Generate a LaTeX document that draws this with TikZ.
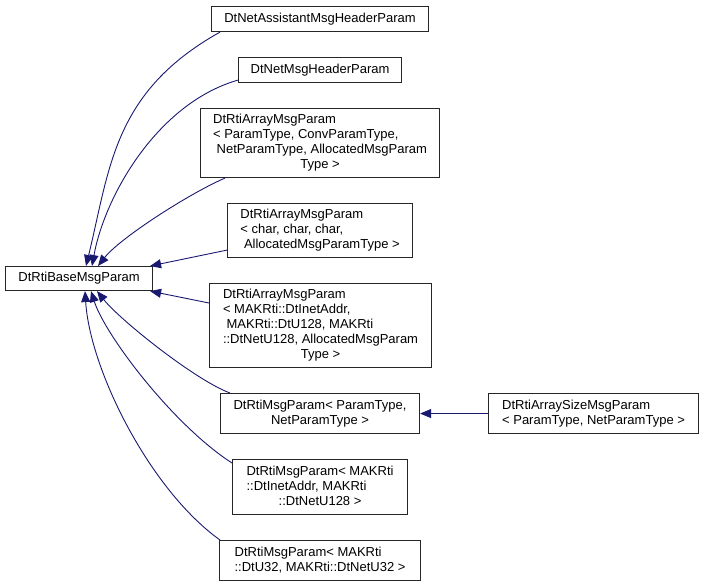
\documentclass[tikz,border=0pt]{standalone}
\usepackage{fontspec}
\setmainfont{Liberation Sans}
\usetikzlibrary{arrows.meta}
\definecolor{edgeblue}{RGB}{25,25,112}
\newcommand{\mylines}[1]{\begin{tabular}{@{}l@{}}#1\end{tabular}}
\newcommand{\mymid}[1]{\multicolumn{1}{@{}c@{}}{#1}}
\begin{document}
\begin{tikzpicture}[x=1pt,y=-1pt,
  box/.style={draw=black!85, line width=1.1pt, inner sep=0pt, anchor=north west,
    font=\fontsize{13}{15}\selectfont, align=center},
  edge/.style={draw=edgeblue, line width=0.9pt,
    -{Triangle[length=11pt,width=9pt]}}]
\useasboundingbox (0,0) rectangle (704,585);
\node[box, minimum width=217, minimum height=25] (n1) at (211,6) {DtNetAssistantMsgHeaderParam};
\node[box, minimum width=163, minimum height=25] (n2) at (238,57) {DtNetMsgHeaderParam};
\node[box, minimum width=239, minimum height=69] (n3) at (200,108)
  {\mylines{DtRtiArrayMsgParam\\ < ParamType, ConvParamType,\\ \ NetParamType, AllocatedMsgParam\\ \mymid{Type >}}};
\node[box, minimum width=185, minimum height=54] (n4) at (227,203)
  {\mylines{DtRtiArrayMsgParam\\ < char, char, char,\\ \ AllocatedMsgParamType >}};
\node[box, minimum width=147, minimum height=24] (b) at (5,266) {DtRtiBaseMsgParam};
\node[box, minimum width=222, minimum height=84] (n6) at (209,283)
  {\mylines{DtRtiArrayMsgParam\\ < MAKRti::DtInetAddr,\\ \ MAKRti::DtU128, MAKRti\\ ::DtNetU128, AllocatedMsgParam\\ \mymid{Type >}}};
\node[box, minimum width=199, minimum height=40] (n7) at (220,393)
  {DtRtiMsgParam< ParamType,\\ NetParamType >};
\node[box, minimum width=210, minimum height=40] (n8) at (488,393)
  {\mylines{DtRtiArraySizeMsgParam\\ < ParamType, NetParamType >}};
\node[box, minimum width=175, minimum height=55] (n9) at (232,459)
  {\mylines{DtRtiMsgParam< MAKRti\\ ::DtInetAddr, MAKRti\\ \mymid{::DtNetU128 >}}};
\node[box, minimum width=201, minimum height=40] (n10) at (219,540)
  {\mylines{DtRtiMsgParam< MAKRti\\ ::DtU32, MAKRti::DtNetU32 >}};
% edges
\draw[edge] ([xshift=9pt]n1.south west) .. controls (113,92) and (110,168) .. ([xshift=81pt]b.north west);
\draw[edge] ([yshift=3pt]n2.south west) .. controls (158,103) and (105,195) .. ([xshift=87pt]b.north west);
\draw[edge] ([xshift=25pt]n3.south west) .. controls (190,193) and (120,238) .. ([xshift=93pt]b.north west);
\draw[edge] ([yshift=8pt]n4.south west) -- ([xshift=-3pt]b.north east);
\draw[edge] ([yshift=-20pt]n6.north west) -- ([xshift=-3pt]b.south east);
\draw[edge] ([xshift=10pt]n7.north west) .. controls (195,380) and (120,320) .. ([xshift=92pt]b.south west);
\draw[edge] ([yshift=-4pt]n9.north west) .. controls (173,425) and (105,335) .. ([xshift=86pt]b.south west);
\draw[edge] ([xshift=1pt]n10.north west) .. controls (150,490) and (90,370) .. ([xshift=80pt]b.south west);
\draw[edge] (n8.west) -- (n7.east);
\end{tikzpicture}
\end{document}
